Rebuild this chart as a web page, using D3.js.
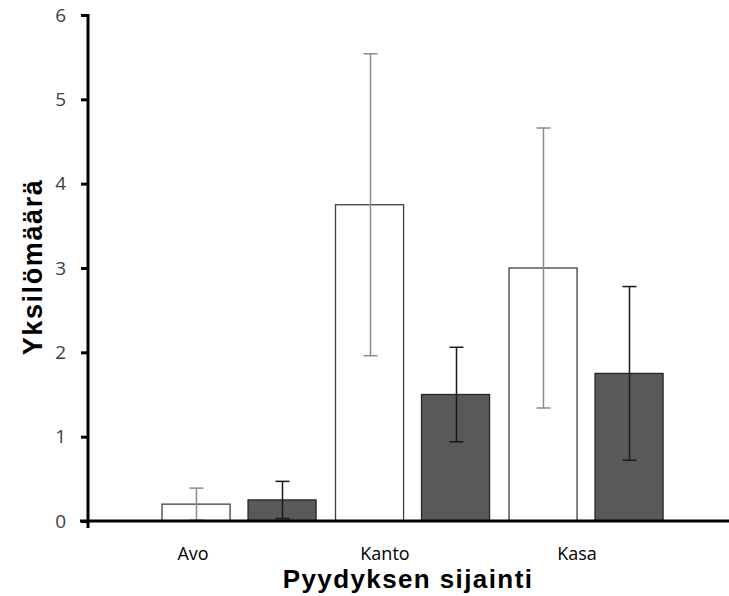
<!DOCTYPE html>
<html><head><meta charset="utf-8">
<script src="https://cdn.jsdelivr.net/npm/d3@7"></script>
<style>body{margin:0;background:#fff}svg{display:block}</style>
</head><body>
<svg id="c" width="729" height="596"></svg>
<script>
const categories = ["Avo", "Kanto", "Kasa"];
const series = ["A", "B"];
const valuesA = [0.2, 3.75, 3.0];
const errorsA = [0.19, 1.79, 1.66];
const valuesB = [0.25, 1.5, 1.75];
const errorsB = [0.22, 0.56, 1.03];
const yTicks = [0, 1, 2, 3, 4, 5, 6];
const yTitle = "Yksilömäärä";
const xTitle = "Pyydyksen sijainti";

const svg = d3.select("#c");
const y = d3.scaleLinear().domain([0, 6]).range([521, 15]);
const x0 = d3.scaleBand().domain(categories).range([152.3, 672.8]).paddingInner(0).paddingOuter(0);
const x1 = d3.scaleBand().domain(series).range([0, x0.bandwidth()]).paddingInner(0.209).paddingOuter(0.113);
const xl = d3.scaleBand().domain(categories).range([97, 673]);

const data = [];
categories.forEach((c, i) => {
  data.push({c, s: "A", v: valuesA[i], e: errorsA[i]});
  data.push({c, s: "B", v: valuesB[i], e: errorsB[i]});
});
const fill = {A: "#ffffff", B: "#595959"};
const stroke = {A: "#404040", B: "#262626"};
const errCol = {A: "#8c8c8c", B: "#1a1a1a"};

svg.append("g").selectAll("rect").data(data).join("rect")
  .attr("x", d => x0(d.c) + x1(d.s))
  .attr("y", d => y(d.v))
  .attr("width", x1.bandwidth())
  .attr("height", d => y(0) - y(d.v))
  .attr("fill", d => fill[d.s])
  .attr("stroke", d => stroke[d.s])
  .attr("stroke-width", 1.3);

const eg = svg.append("g").selectAll("g").data(data).join("g")
  .attr("stroke", d => errCol[d.s]).attr("stroke-width", 1.5);
const cx = d => Math.round(x0(d.c) + x1(d.s) + x1.bandwidth() / 2) + 0.5;
eg.append("line").attr("x1", cx).attr("x2", cx)
  .attr("y1", d => y(d.v + d.e)).attr("y2", d => y(Math.max(0, d.v - d.e)));
eg.append("line").attr("x1", d => cx(d) - 7).attr("x2", d => cx(d) + 7)
  .attr("y1", d => y(d.v + d.e)).attr("y2", d => y(d.v + d.e));
eg.append("line").attr("x1", d => cx(d) - 7).attr("x2", d => cx(d) + 7)
  .attr("y1", d => y(Math.max(0, d.v - d.e))).attr("y2", d => y(Math.max(0, d.v - d.e)));

// y axis
const ya = d3.axisLeft(y).tickValues(yTicks).tickSize(7).tickPadding(15).tickFormat(d3.format("d"));
const gy = svg.append("g").attr("transform", "translate(88,0)").call(ya);
gy.select(".domain").attr("stroke", "#000").attr("stroke-width", 3).attr("d", "M0,14V528");
gy.selectAll(".tick line").attr("stroke", "#000").attr("stroke-width", 3);
gy.selectAll(".tick text").attr("fill", "#404040").style("font-family", "'Open Sans', 'Liberation Sans', sans-serif").style("font-size", "19px");

// x axis
const xa = d3.axisBottom(xl).tickSize(0).tickPadding(26);
const gx = svg.append("g").attr("transform", "translate(0,521)").call(xa);
gx.select(".domain").attr("stroke", "#000").attr("stroke-width", 3).attr("d", "M80,0H729");
gx.selectAll(".tick text").attr("fill", "#000").style("font-family", "'Open Sans', 'Liberation Sans', sans-serif").style("font-size", "18px");

svg.append("text").attr("transform", "translate(42,267) rotate(-90)")
  .attr("text-anchor", "middle")
  .style("font-family", "'Liberation Sans', Arial, sans-serif").style("font-weight", "bold").style("font-size", "27px")
  .style("letter-spacing", "1.6px")
  .text(yTitle);
svg.append("text").attr("x", 408).attr("y", 588)
  .attr("text-anchor", "middle")
  .style("font-family", "'Liberation Sans', Arial, sans-serif").style("font-weight", "bold").style("font-size", "26px")
  .style("letter-spacing", "1.4px")
  .text(xTitle);
</script>
</body></html>
